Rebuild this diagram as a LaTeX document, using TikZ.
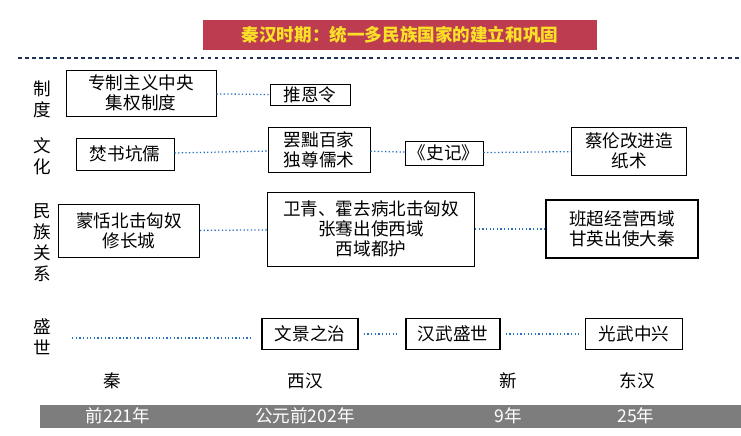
\documentclass[tikz,border=0pt]{standalone}
\usepackage{fontspec}
\setmainfont{Noto Sans CJK SC}
\definecolor{titlered}{RGB}{190,60,80}
\definecolor{titleyel}{RGB}{250,225,40}
\definecolor{navy}{RGB}{30,50,90}
\definecolor{dotblue}{RGB}{40,110,190}
\definecolor{bargray}{RGB}{125,125,125}
\tikzset{
	ev/.style={draw, thick, align=center, inner sep=2pt, font=\fontsize{15}{17}\selectfont},
	evb/.style={ev, line width=1.2pt},
	link/.style={dotblue, dotted, line width=1.1pt},
	lab/.style={font=\fontsize{15}{18}\selectfont, align=center},
}
\begin{document}
\begin{tikzpicture}[x=0.03cm, y=-0.03cm]
		\useasboundingbox (0,0) rectangle (741,435);
		\node[fill=titlered, text=titleyel, minimum width=394*0.03cm, minimum height=30*0.03cm, font=\fontsize{15}{17}\selectfont\bfseries] (title) at (400,35) {秦汉时期：统一多民族国家的建立和巩固};
		\draw[navy, dashed, line width=1pt] (18,58) -- (741,58);

		\node[lab] (r1) at (42,99) {制\\度};
		\node[lab] (r2) at (42,156) {文\\化};
		\node[lab] (r3) at (42,243) {民\\族\\关\\系};
		\node[lab] (r4) at (42,337) {盛\\世};

		\node[ev, minimum width=150*0.03cm, minimum height=46*0.03cm] (zz) at (141,93) {专制主义中央\\集权制度};
		\node[ev, minimum width=80*0.03cm, minimum height=21*0.03cm] (ten) at (310,95) {推恩令};
		\draw[link] (zz) -- (ten);

		\node[ev, minimum width=98*0.03cm, minimum height=32*0.03cm] (fs) at (125,154) {焚书坑儒};
		\node[ev, minimum width=102*0.03cm, minimum height=45*0.03cm] (bc) at (319,150) {罢黜百家\\独尊儒术};
		\node[ev, minimum width=78*0.03cm, minimum height=24*0.03cm] (sj) at (444,153) {《史记》};
		\node[ev, minimum width=115*0.03cm, minimum height=48*0.03cm] (cl) at (629,151) {蔡伦改进造\\纸术};
		\draw[link] (fs) -- (bc);
		\draw[link] (bc) -- (sj);
		\draw[link] (sj) -- (cl);

		\node[ev, minimum width=141*0.03cm, minimum height=53*0.03cm] (mt) at (129,231) {蒙恬北击匈奴\\修长城};
		\node[ev, minimum width=207*0.03cm, minimum height=74*0.03cm] (wq) at (371,229) {卫青、霍去病北击匈奴\\张骞出使西域\\西域都护};
		\node[evb, minimum width=152*0.03cm, minimum height=58*0.03cm] (bcs) at (622,229) {班超经营西域\\甘英出使大秦};
		\draw[link] (mt) -- (wq);
		\draw[link] (wq) -- (bcs);

		\coordinate (s0) at (72,338);
		\node[evb, minimum width=96*0.03cm, minimum height=31*0.03cm] (wj) at (310,334) {文景之治};
		\node[evb, minimum width=94*0.03cm, minimum height=31*0.03cm] (hw) at (453,334) {汉武盛世};
		\node[evb, minimum width=97*0.03cm, minimum height=31*0.03cm] (gw) at (634,334) {光武中兴};
		\draw[link] (s0) -- (252,338);
		\draw[link] (wj.east) ++(5,0) -- ([xshift=-8*0.03cm]hw.west);
		\draw[link] (hw.east) ++(5,0) -- ([xshift=-6*0.03cm]gw.west);

		\node[lab] (qin) at (112,381) {秦};
		\node[lab] (xh) at (305,381) {西汉};
		\node[lab] (xin) at (508,381) {新};
		\node[lab] (dh) at (637,381) {东汉};

		\fill[bargray] (40,405) rectangle (741,428);
		\node[lab, text=white] (y1) at (118,416) {前221年};
		\node[lab, text=white] (y2) at (305,416) {公元前202年};
		\node[lab, text=white] (y3) at (508,416) {9年};
		\node[lab, text=white] (y4) at (636,416) {25年};
	\end{tikzpicture}
\end{document}
